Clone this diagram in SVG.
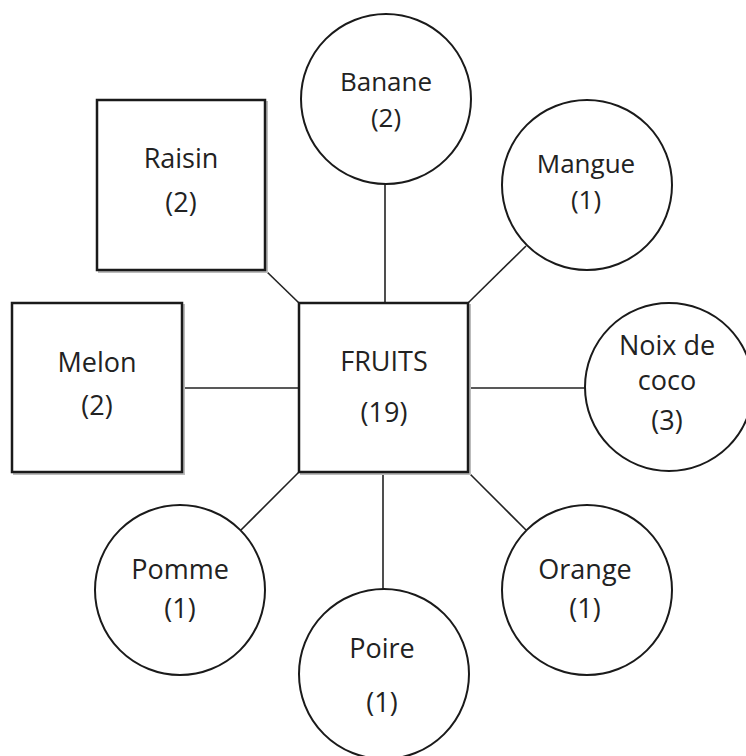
<svg xmlns="http://www.w3.org/2000/svg" width="746" height="756" viewBox="0 0 746 756">
<style>
.box{fill:#fff;stroke:#1a1a1a;stroke-width:2.5}
.sh{fill:none;stroke:#bbb;stroke-width:2}
.circ{fill:#fff;stroke:#1a1a1a;stroke-width:2}
.con{stroke:#222;stroke-width:1.6;fill:none}
text{font-family:"Open Sans","Liberation Sans",sans-serif;font-size:27px;fill:#222;text-anchor:middle}
.t2{font-size:26px}
</style>
<rect width="746" height="756" fill="#fff"/>
<g id="connectors">
<line class="con" x1="385" y1="183" x2="385" y2="303"/>
<line class="con" x1="265" y1="270" x2="299" y2="303"/>
<line class="con" x1="468" y1="303" x2="526" y2="246"/>
<line class="con" x1="182" y1="388" x2="299" y2="388"/>
<line class="con" x1="468" y1="388" x2="585" y2="388"/>
<line class="con" x1="299" y1="472" x2="241" y2="530"/>
<line class="con" x1="383" y1="472" x2="383" y2="590"/>
<line class="con" x1="468" y1="472" x2="526" y2="530"/>
</g>
<g id="fruits">
<rect class="sh" x="301" y="305" width="169" height="169"/>
<rect class="box" x="299" y="303" width="169" height="169"/>
<text x="384" y="371">FRUITS</text>
<text x="384" y="422">(19)</text>
</g>
<g id="banane">
<circle class="circ" cx="386" cy="99" r="85"/>
<text class="t2" x="386" y="91">Banane</text>
<text class="t2" x="386" y="127">(2)</text>
</g>
<g id="raisin">
<rect class="sh" x="99" y="102" width="168" height="170"/>
<rect class="box" x="97" y="100" width="168" height="170"/>
<text x="181" y="168">Raisin</text>
<text x="181" y="212">(2)</text>
</g>
<g id="melon">
<rect class="sh" x="14" y="305" width="170" height="169"/>
<rect class="box" x="12" y="303" width="170" height="169"/>
<text x="97" y="372">Melon</text>
<text x="97" y="415">(2)</text>
</g>
<g id="mangue">
<circle class="circ" cx="587" cy="185" r="85"/>
<text class="t2" x="586" y="173">Mangue</text>
<text class="t2" x="586" y="209">(1)</text>
</g>
<g id="noix">
<circle class="circ" cx="669" cy="387" r="84"/>
<text x="667" y="355">Noix de</text>
<text x="667" y="390">coco</text>
<text x="667" y="430">(3)</text>
</g>
<g id="pomme">
<circle class="circ" cx="180" cy="590" r="85"/>
<text x="180" y="579">Pomme</text>
<text x="180" y="618">(1)</text>
</g>
<g id="poire">
<circle class="circ" cx="384" cy="674" r="85"/>
<text x="382" y="658">Poire</text>
<text x="382" y="712">(1)</text>
</g>
<g id="orange">
<circle class="circ" cx="587" cy="590" r="85"/>
<text x="585" y="579">Orange</text>
<text x="585" y="618">(1)</text>
</g>
</svg>
